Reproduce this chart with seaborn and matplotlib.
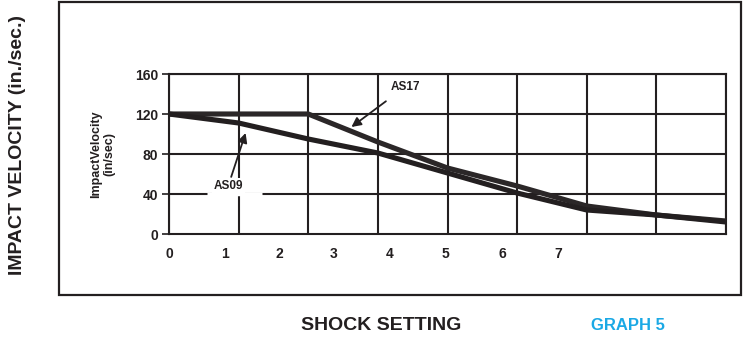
import matplotlib
matplotlib.use("Agg")
import matplotlib.pyplot as plt
import seaborn as sns
import pandas as pd
from matplotlib.patches import Rectangle

# ---- data (x in grid-column units) ----
grid_x = [0, 1, 2, 3, 4, 5, 6, 7, 8]
as17 = [120, 120, 120, 92, 66, 48, 28, 19, 13]
as09 = [120, 111, 95, 81, 61, 41, 24, 19, 12]
tick_labels = ["0", "1", "2", "3", "4", "5", "6", "7"]
tick_pos = [0.0, 0.80, 1.58, 2.37, 3.17, 3.97, 4.79, 5.59]
y_ticks = [0, 40, 80, 120, 160]

df = pd.DataFrame({
    "x": grid_x * 2,
    "v": as17 + as09,
    "series": ["AS17"] * len(grid_x) + ["AS09"] * len(grid_x),
})

sns.set_theme(style="white")
plt.rcParams["font.family"] = ["Liberation Sans", "DejaVu Sans"]
ink = "#231f20"

fig = plt.figure(figsize=(7.43, 3.38), dpi=100)
ax = fig.add_axes([169 / 743, 1 - 234 / 338, (726 - 169) / 743, (234 - 74) / 338])

# grid
for gx in grid_x:
    ax.axvline(gx, color=ink, lw=1.5, zorder=1)
for gy in y_ticks[1:]:
    ax.axhline(gy, color=ink, lw=1.5, zorder=1)
ax.hlines(40, 0.545, 1.33, color="white", lw=2.5, zorder=1.5)

sns.lineplot(data=df, x="x", y="v", hue="series",
             palette={"AS17": "#2b2728", "AS09": ink},
             lw=3.7, legend=False, ax=ax, zorder=3)

ax.set_xlim(0, 8)
ax.set_ylim(0, 160)
ax.set_yticks(y_ticks)
ax.set_yticklabels([str(v) for v in y_ticks], fontsize=10, fontweight="bold", color=ink)
ax.set_xticks(tick_pos)
ax.set_xticklabels(tick_labels, fontsize=10, fontweight="bold", color=ink)
ax.tick_params(axis="y", length=5, width=1.2, color=ink, pad=3, left=True)
ax.tick_params(axis="x", length=0, pad=9)
for s in ax.spines.values():
    s.set_color(ink)
    s.set_linewidth(1.5)
ax.set_xlabel("")
ax.set_ylabel("ImpactVelocity\n(in/sec)", fontsize=9, fontweight="bold",
              color=ink, linespacing=1.1, labelpad=14)

# annotations
ax.annotate("AS17", xy=(2.62, 107), xytext=(3.39, 147), fontsize=8.5,
            fontweight="bold", color=ink, ha="center", va="center",
            arrowprops=dict(arrowstyle="-|>", color=ink, lw=1.3,
                            shrinkA=6, shrinkB=0, mutation_scale=14),
            zorder=5)
ax.annotate("AS09", xy=(1.1, 101), xytext=(0.85, 48), fontsize=8.5,
            fontweight="bold", color=ink, ha="center", va="center",
            bbox=dict(boxstyle="square,pad=0.15", fc="white", ec="none"),
            arrowprops=dict(arrowstyle="-|>", color=ink, lw=1.3,
                            shrinkA=1, shrinkB=0, mutation_scale=14),
            zorder=5)

# outer frame
fig.patches.append(Rectangle((59 / 743, 1 - 295 / 338), (741 - 59) / 743, (295 - 2) / 338,
                             transform=fig.transFigure, fill=False,
                             edgecolor=ink, lw=1.6))

fig.text(0.024, 0.571, "IMPACT VELOCITY (in./sec.)", rotation=90, ha="center",
         va="center", fontsize=14, fontweight="bold", color=ink)
fig.text(0.513, 0.038, "SHOCK SETTING", ha="center", va="center",
         fontsize=14, fontweight="bold", color=ink)
fig.text(0.845, 0.038, "GRAPH 5", ha="center", va="center",
         fontsize=12, fontweight="bold", color="#1ba9e5")

fig.savefig("out.png", dpi=100)
